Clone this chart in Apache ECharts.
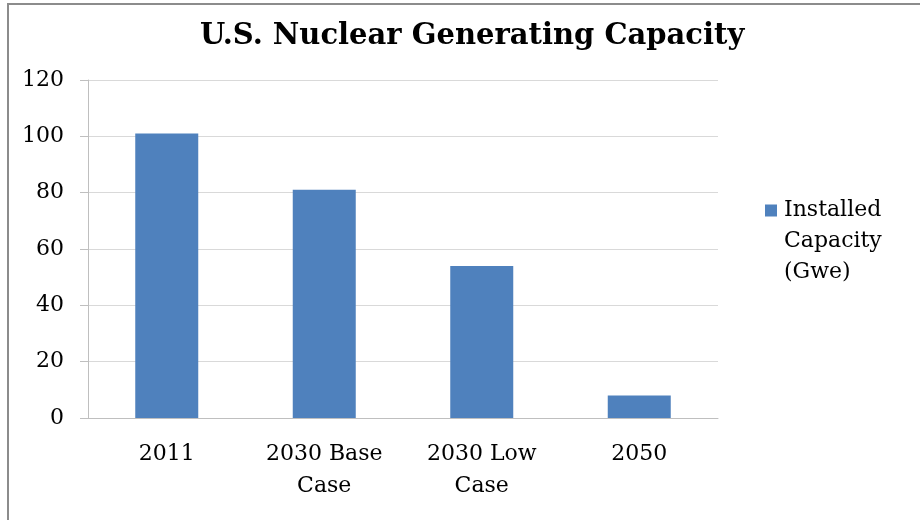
<!DOCTYPE html>
<html lang="en">
  <head>
    <meta charset="UTF-8" />
    <title>U.S. Nuclear Generating Capacity</title>
    <style>
      html, body { margin: 0; padding: 0; background: #fff; }
    </style>
  </head>
  <body>
    <div id="main" style="width: 920px; height: 520px"></div>

    <script src="https://cdn.jsdelivr.net/npm/echarts@6/dist/echarts.min.js"></script>
    <script>
      var myChart = echarts.init(document.getElementById("main"));

      // data
      var categories = ["2011", "2030 Base\nCase", "2030 Low\nCase", "2050"];
      var capacity = [101, 81, 54, 8];
      var yTicks = [0, 20, 40, 60, 80, 100, 120];

      var serif = "'DejaVu Serif', 'Liberation Serif', serif";

      var option = {
        backgroundColor: "#fff",
        animation: false,
        title: {
          text: "U.S. Nuclear Generating Capacity",
          left: 195,
          top: 17,
          textStyle: {
            fontFamily: serif,
            fontWeight: "bold",
            fontSize: 29,
            color: "#000",
          },
        },
        legend: {
          orient: "vertical",
          left: 765,
          top: 133,
          padding: 0,
          itemWidth: 12,
          itemHeight: 12,
          itemGap: 10,
          icon: "rect",
          // two empty lines on top so the square sits beside the first line
          formatter: function (name) {
            return " \n \nInstalled\nCapacity\n(Gwe)";
          },
          textStyle: {
            fontFamily: serif,
            fontSize: 22,
            lineHeight: 31,
            color: "#000",
            padding: [0, 0, 0, 2],
          },
        },
        grid: {
          left: 88,
          right: 202,
          top: 80,
          bottom: 102,
        },
        xAxis: {
          type: "category",
          data: categories,
          axisLine: { lineStyle: { color: "#bfbfbf" } },
          axisTick: { length: 8, lineStyle: { color: "#bfbfbf" } },
          axisLabel: {
            margin: 20,
            fontFamily: serif,
            fontSize: 22,
            lineHeight: 32,
            color: "#000",
          },
        },
        yAxis: {
          type: "value",
          min: yTicks[0],
          max: yTicks[yTicks.length - 1],
          interval: yTicks[1] - yTicks[0],
          axisLine: { show: true, lineStyle: { color: "#bfbfbf" } },
          axisTick: { show: true, length: 8, lineStyle: { color: "#bfbfbf" } },
          splitLine: { lineStyle: { color: "#d9d9d9" } },
          axisLabel: {
            margin: 24,
            fontFamily: serif,
            fontSize: 22,
            color: "#000",
          },
        },
        series: [
          {
            name: "Installed Capacity (Gwe)",
            type: "bar",
            data: capacity,
            barWidth: "40%",
            itemStyle: { color: "#4f81bd" },
          },
        ],
        graphic: [
          {
            type: "rect",
            shape: { x: 8, y: 4, width: 930, height: 530 },
            style: { fill: "none", stroke: "#8c8c8c", lineWidth: 2 },
            silent: true,
          },
        ],
      };
      myChart.setOption(option);
    </script>
  </body>
</html>
